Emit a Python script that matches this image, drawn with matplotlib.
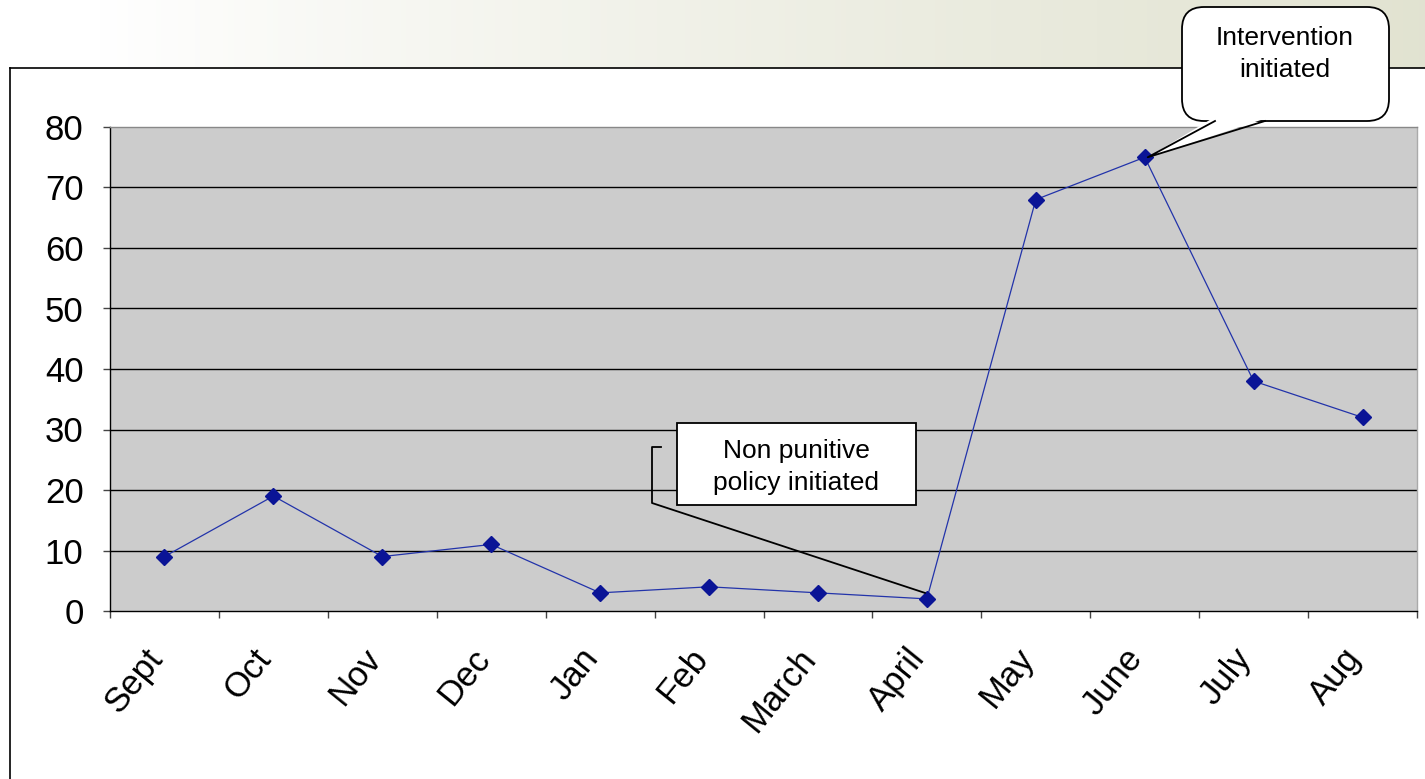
import numpy as np
import matplotlib
matplotlib.use("Agg")
import matplotlib.pyplot as plt
import matplotlib.transforms as mtransforms
from matplotlib.patches import FancyBboxPatch, Rectangle, Polygon
from matplotlib.lines import Line2D

# ============================================
# DATA
# ============================================
months = ["Sept", "Oct", "Nov", "Dec", "Jan", "Feb", "March", "April",
          "May", "June", "July", "Aug"]
counts = [9, 19, 9, 11, 3, 4, 3, 2, 68, 75, 38, 32]
y_ticks = [0, 10, 20, 30, 40, 50, 60, 70, 80]

plt.rcParams['font.family'] = ['Liberation Sans', 'DejaVu Sans']

W, H = 1425, 779
fig = plt.figure(figsize=(W / 100, H / 100), dpi=100)
fig.patch.set_facecolor('white')


def px(x, y):
    # pixel (from top-left) -> figure fraction
    return x / W, 1 - y / H


# slide background strip at the top (light green/beige gradient)
bg = fig.add_axes([0, 0, 1, 1], zorder=-5)
bg.axis('off')
grad = np.linspace(0, 1, 256)
grad = np.clip((grad - 0.07) / 0.93, 0, 1) ** 0.85
c0 = np.array([1.0, 1.0, 1.0])
c1 = np.array([0.885, 0.89, 0.82])
img = c0[None, :] * (1 - grad[:, None]) + c1[None, :] * grad[:, None]
img = np.tile(img[None, :, :], (2, 1, 1))
top_y = 1 - 68 / H
bg.imshow(img, extent=[0, 1, top_y, 1], aspect='auto', transform=bg.transAxes)
bg.add_patch(Rectangle((10 / W, 0), 1, top_y, facecolor='white',
                       edgecolor='none', transform=bg.transAxes))
bg.set_xlim(0, 1)
bg.set_ylim(0, 1)

# chart frame border
fig.add_artist(Line2D([10 / W, 1], [top_y, top_y], color='black', lw=1.2,
                      transform=fig.transFigure))
fig.add_artist(Line2D([10 / W, 10 / W], [0, top_y], color='black', lw=1.2,
                      transform=fig.transFigure))

# ============================================
# MAIN PLOT
# ============================================
l, b = px(110, 611)
r, t = px(1417, 127)
ax = fig.add_axes([l, b, r - l, t - b])
ax.set_facecolor('#CCCCCC')

x = np.arange(len(months))
ax.plot(x, counts, color='#2233AA', linewidth=0.9, zorder=3)
ax.plot(x, counts, linestyle='none', marker='D', markersize=8.5,
        color='#0A1496', markeredgecolor='#0A1496', zorder=4)

ax.set_xlim(-0.5, len(months) - 0.5)
ax.set_ylim(0, 80)
ax.set_yticks(y_ticks)
ax.set_yticklabels([str(v) for v in y_ticks], fontsize=25)
for v in y_ticks[1:-1]:
    ax.axhline(v, color='black', linewidth=1.0, zorder=1)

ax.set_xticks(x)
ax.set_xticklabels(months, fontsize=25, rotation=51, ha='right',
                   va='center', rotation_mode='anchor')
ax.set_xticks(np.arange(-0.5, len(months)), minor=True)
ax.tick_params(axis='x', which='major', length=0, pad=30)
ax.tick_params(axis='x', which='minor', length=5, width=1, color='#444444',
               direction='out')
ax.tick_params(axis='y', length=5, width=1, color='#444444', pad=14)

# nudge month labels a little to the left (after tick_params, which resets them)
shift = mtransforms.ScaledTranslation(-8 / 100, 0, fig.dpi_scale_trans)
for lab in ax.get_xticklabels():
    lab.set_transform(lab.get_transform() + shift)

ax.spines['left'].set_color('black')
ax.spines['bottom'].set_color('black')
ax.spines['top'].set_color('#888888')
ax.spines['right'].set_color('#AAAAAA')
for s in ax.spines.values():
    s.set_linewidth(1.0)

# ============================================
# CALLOUTS
# ============================================
# "Non punitive policy initiated" box with bracket leader
bx0, by0 = px(677, 505)
bx1, by1 = px(916, 423)
fig.add_artist(Rectangle((bx0, by0), bx1 - bx0, by1 - by0, facecolor='white',
                         edgecolor='black', lw=1.3, transform=fig.transFigure,
                         zorder=5))
cx, cy = px(796, 467)
fig.text(cx, cy, "Non punitive\npolicy initiated", fontsize=19,
         ha='center', va='center', linespacing=1.4, zorder=6)

# leader ends at the April point
apr_disp = ax.transData.transform((months.index("April"), counts[months.index("April")]))
apr_fig = fig.transFigure.inverted().transform(apr_disp)
lx = [px(661, 0)[0], px(652, 0)[0], px(652, 0)[0], apr_fig[0] - 2 / W]
ly = [px(0, 447)[1], px(0, 447)[1], px(0, 503)[1], apr_fig[1] + 6 / H]
fig.add_artist(Line2D(lx, ly, color='black', lw=1.3, transform=fig.transFigure,
                      zorder=5))

# "Intervention initiated" speech bubble pointing at June
qx0, qy0 = px(1182, 121)
qx1, qy1 = px(1389, 7)
rad = 22 / W
fig.add_artist(FancyBboxPatch((qx0, qy0), qx1 - qx0, qy1 - qy0,
                              boxstyle="round,pad=0,rounding_size=%f" % rad,
                              mutation_aspect=W / H,
                              facecolor='white', edgecolor='black', lw=1.3,
                              transform=fig.transFigure, zorder=5))
jun_disp = ax.transData.transform((months.index("June"), counts[months.index("June")]))
jun_fig = fig.transFigure.inverted().transform(jun_disp)
t1 = px(1215, 120)
t2 = px(1265, 120)
fig.add_artist(Polygon([px(1213, 118), (jun_fig[0] + 3 / W, jun_fig[1]), px(1267, 118)],
                       closed=True, facecolor='white', edgecolor='none',
                       transform=fig.transFigure, zorder=6))
fig.add_artist(Line2D([t1[0], jun_fig[0] + 3 / W, t2[0]],
                      [px(0, 121)[1], jun_fig[1], px(0, 121)[1]],
                      color='black', lw=1.3, transform=fig.transFigure, zorder=7))
tx, ty = px(1285, 54)
fig.text(tx, ty, "Intervention\ninitiated", fontsize=19, ha='center',
         va='center', linespacing=1.4, zorder=8)

fig.savefig("out.png", dpi=100)
